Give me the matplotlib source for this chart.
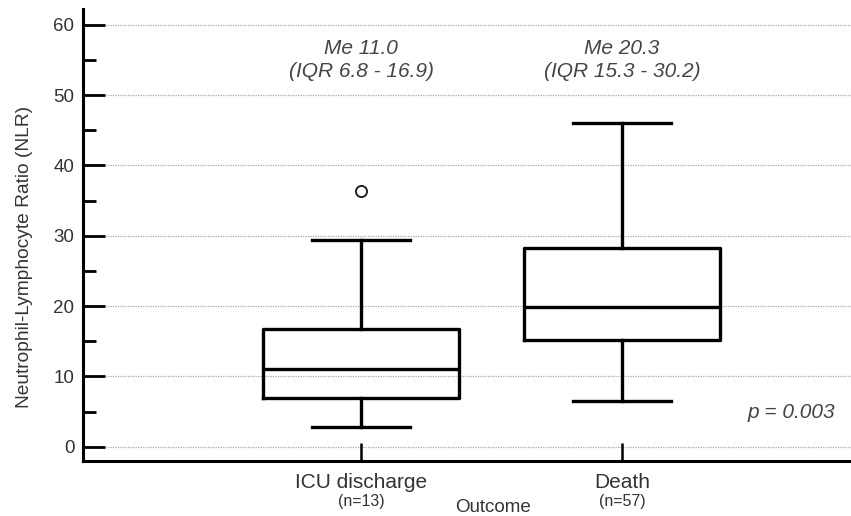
import matplotlib
matplotlib.use("Agg")
import matplotlib.pyplot as plt

plt.rcParams['font.family'] = ['Liberation Sans', 'DejaVu Sans']

# data
groups = ["ICU discharge", "Death"]
counts = ["(n=13)", "(n=57)"]
q1 = [6.9, 15.2]
med = [11.1, 19.9]
q3 = [16.8, 28.2]
wlo = [2.8, 6.5]
whi = [29.4, 46.1]
outliers = [[36.4], []]
notes = ["Me 11.0\n(IQR 6.8 - 16.9)", "Me 20.3\n(IQR 15.3 - 30.2)"]
pval = "p = 0.003"

txt = '#333333'
it = '#454545'

fig = plt.figure(figsize=(8.51, 5.16), dpi=100)
ax = fig.add_axes([0.0972, 0.1066, 0.9028, 0.8754])

stats = []
for i in range(len(groups)):
    stats.append({'med': med[i], 'q1': q1[i], 'q3': q3[i],
                  'whislo': wlo[i], 'whishi': whi[i], 'fliers': outliers[i]})

pos = [1, 2]
lw = 2.4
ax.bxp(stats, positions=pos, widths=0.75, showfliers=True,
       boxprops=dict(color='black', linewidth=lw),
       medianprops=dict(color='black', linewidth=lw),
       whiskerprops=dict(color='black', linewidth=lw),
       capprops=dict(color='black', linewidth=lw),
       flierprops=dict(marker='o', markersize=8, markerfacecolor='none',
                       markeredgecolor='#222222', markeredgewidth=1.4),
       zorder=3)

ax.set_xlim(-0.066, 2.877)
ax.set_ylim(-2.03, 62.2)

# dotted gridlines, starting right of the inward ticks
for y in range(0, 61, 10):
    ax.axhline(y, xmin=0.022, xmax=1, color='#a8a8a8', linestyle=(0, (1, 1)),
               linewidth=0.9, zorder=1)

ax.spines['top'].set_visible(False)
ax.spines['right'].set_visible(False)
ax.spines['left'].set_linewidth(2.2)
ax.spines['bottom'].set_linewidth(2.2)

ax.set_yticks(range(0, 61, 10))
ax.set_yticks(range(5, 60, 10), minor=True)
ax.tick_params(axis='y', which='major', direction='in', length=16, width=2,
               labelsize=13.5, labelcolor=txt, pad=6)
ax.tick_params(axis='y', which='minor', direction='in', length=9, width=2)

ax.set_xticks(pos)
ax.set_xticklabels(groups)
ax.tick_params(axis='x', direction='in', length=13, width=1.8,
               labelsize=15, labelcolor=txt, pad=9)

for i, p in enumerate(pos):
    ax.annotate(counts[i], xy=(p, 0), xycoords=('data', 'axes fraction'),
                xytext=(0, -29.3), textcoords='offset points',
                ha='center', va='center', fontsize=11.5, color=txt)
    ax.text(p, 55.0, notes[i], ha='center', va='center', fontsize=15,
            style='italic', color=it, linespacing=1.25)

ax.text(2.816, 4.8, pval, ha='right', va='center', fontsize=15,
        style='italic', color=it)

fig.text(493 / 851, 1 - 507 / 516, "Outcome", ha='center', va='center',
         fontsize=13.5, color=txt)
fig.text(25 / 851, 1 - 257 / 516, "Neutrophil-Lymphocyte Ratio (NLR)",
         rotation=90, ha='center', va='center', fontsize=13.8, color=txt)

fig.savefig("out.png", dpi=100)
